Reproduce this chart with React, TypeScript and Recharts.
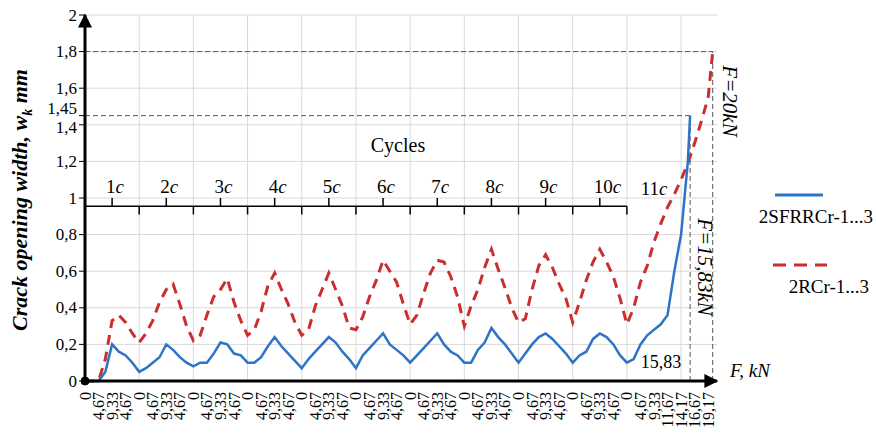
import { LineChart, Line, XAxis, YAxis, CartesianGrid, ReferenceLine, ReferenceDot } from 'recharts';

const SERIF = '"Liberation Serif", "Times New Roman", serif';

// one loading cycle = 8 load steps, a tick label on every 2nd step
const cycleTicks = ['0', '4,67', '9,33', '4,67'];
const lastCycleTicks = ['0', '4,67', '9,33', '11,67', '14,17', '16,67', '19,17'];
const tickLabels = [...Array(10).fill(cycleTicks).flat(), ...lastCycleTicks];
const cycleNames = ['1', '2', '3', '4', '5', '6', '7', '8', '9', '10'];
const yTicks = [0, 0.2, 0.4, 0.6, 0.8, 1, 1.2, 1.4, 1.45, 1.6, 1.8, 2];
const yGrid = [0, 0.2, 0.4, 0.6, 0.8, 1, 1.2, 1.4, 1.6, 1.8, 2];

// crack opening width w_k (mm) at each load step
const sfrrc = [
  0, 0, 0, 0.05, 0.2, 0.16, 0.14, 0.1, 0.05,
  0.07, 0.1, 0.13, 0.2, 0.17, 0.13, 0.1, 0.08,
  0.1, 0.1, 0.15, 0.21, 0.2, 0.15, 0.14, 0.1,
  0.1, 0.13, 0.19, 0.24, 0.19, 0.15, 0.11, 0.07,
  0.12, 0.16, 0.2, 0.24, 0.21, 0.16, 0.12, 0.07,
  0.14, 0.18, 0.22, 0.26, 0.2, 0.17, 0.14, 0.1,
  0.14, 0.18, 0.22, 0.26, 0.2, 0.16, 0.14, 0.1,
  0.1, 0.17, 0.21, 0.29, 0.24, 0.2, 0.15, 0.1,
  0.15, 0.2, 0.24, 0.26, 0.23, 0.19, 0.15, 0.1,
  0.14, 0.16, 0.23, 0.26, 0.24, 0.2, 0.14, 0.1,
  0.12, 0.2, 0.25, 0.28, 0.31, 0.36, 0.6, 0.8, 1.2,
];
const rc = [
  0, 0, 0, 0.12, 0.33, 0.36, 0.32, 0.26, 0.21,
  0.26, 0.33, 0.43, 0.5, 0.53, 0.42, 0.3, 0.22,
  0.25, 0.36, 0.46, 0.5, 0.56, 0.43, 0.33, 0.25,
  0.28, 0.38, 0.52, 0.59, 0.5, 0.42, 0.32, 0.25,
  0.28, 0.41, 0.5, 0.59, 0.5, 0.41, 0.29, 0.28,
  0.35, 0.46, 0.55, 0.66, 0.6, 0.54, 0.42, 0.31,
  0.36, 0.48, 0.59, 0.66, 0.65, 0.57, 0.46, 0.3,
  0.41, 0.5, 0.62, 0.72, 0.61, 0.51, 0.4, 0.32,
  0.34, 0.5, 0.63, 0.69, 0.62, 0.53, 0.45, 0.32,
  0.43, 0.55, 0.65, 0.72, 0.65, 0.57, 0.45, 0.31,
  0.4, 0.54, 0.63, 0.76, 0.86, 0.95, 1.02, 1.1, 1.19, 1.3, 1.42, 1.55,
];
// failure points (kN, mm)
const sfrrcFail = { load: 15.83, w: 1.45 };
const rcFail = { load: 20, w: 1.8 };

// last cycle: 11,67 kN sits at step 86, then 2,5 kN per 2 steps
const loadToStep = (kN: number) => 86 + (2 * (kN - 11.67)) / 2.5;

const blueData = [...sfrrc.map((w, i) => ({ x: i, w })), { x: loadToStep(sfrrcFail.load), w: sfrrcFail.w }];
const redData = [...rc.map((w, i) => ({ x: i, w })), { x: loadToStep(rcFail.load), w: rcFail.w }];
const xTicks = tickLabels.map((_, i) => i * 2);
const cycleBounds = [8, 16, 24, 32, 40, 48, 56, 64, 72, 80, 88];
const BRACE_Y = 0.955;

const fmt = (v: number) => String(v).replace('.', ',');

function XTick({ x, y, payload }: any) {
  const ty = y + 3;
  return (
    <text x={x} y={ty} transform={`rotate(-90 ${x} ${ty})`} textAnchor="end" dominantBaseline="central"
      fontFamily={SERIF} fontSize={16} fill="#000">
      {tickLabels[Math.round(payload.value / 2)]}
    </text>
  );
}

function YTick({ x, y, payload }: any) {
  const v = payload.value;
  const dy = v === 1.45 ? -7 : v === 1.4 ? 3 : 0;
  return (
    <text x={x} y={y + dy} textAnchor="end" dominantBaseline="central" fontFamily={SERIF} fontSize={17} fill="#000">
      {fmt(v)}
    </text>
  );
}

function CycleLabel({ viewBox, name }: any) {
  return (
    <text x={viewBox.x - 6} y={viewBox.y - 5} fontFamily={SERIF} fontSize={19} fill="#000">
      {name}
      <tspan fontStyle="italic">c</tspan>
    </text>
  );
}

function LegendBox() {
  const row = { display: 'flex', flexDirection: 'column' as const, alignItems: 'flex-end' as const };
  return (
    <div style={{ position: 'absolute', left: 733, top: 190, width: 140, fontFamily: SERIF, fontSize: 19, color: '#000' }}>
      <div style={row}>
        <svg width={60} height={10} style={{ marginRight: 42 }}>
          <line x1={4} y1={5} x2={52} y2={5} stroke="#2e74c6" strokeWidth={3} />
        </svg>
        <div style={{ marginTop: 6 }}>2SFRRCr-1...3</div>
      </div>
      <div style={{ ...row, marginTop: 32 }}>
        <svg width={60} height={10} style={{ marginRight: 42 }}>
          <line x1={2} y1={5} x2={56} y2={5} stroke="#cc2d2d" strokeWidth={3} strokeDasharray="13 8" />
        </svg>
        <div style={{ marginTop: 6, marginRight: 4 }}>2RCr-1...3</div>
      </div>
    </div>
  );
}

const note = (left: number, top: number, rot = 0): React.CSSProperties => ({
  position: 'absolute', left, top, transform: `translate(-50%, -50%) rotate(${rot}deg)`,
  whiteSpace: 'nowrap', fontFamily: SERIF, color: '#000', lineHeight: 1,
});

export default function App() {
  return (
    <div style={{ position: 'absolute', left: 0, top: 0, width: 876, height: 435, background: '#fff' }}>
      <LineChart width={876} height={435} margin={{ top: 15, right: 159, bottom: 4, left: 25 }}>
        <defs>
          <marker id="axisArrow" viewBox="0 0 10 10" refX="9" refY="5" markerWidth="18" markerHeight="14"
            markerUnits="userSpaceOnUse" orient="auto-start-reverse">
            <path d="M0,0 L10,5 L0,10 z" fill="#000" />
          </marker>
        </defs>
        <CartesianGrid stroke="#d9d9d9" horizontalValues={yGrid} verticalValues={cycleBounds} />
        <XAxis type="number" dataKey="x" domain={[0, 93.3]} ticks={xTicks} interval={0} height={50}
          tick={<XTick />} tickLine={false}
          axisLine={{ stroke: '#000', strokeWidth: 3, markerEnd: 'url(#axisArrow)' }} />
        <YAxis type="number" domain={[0, 2]} ticks={yTicks} interval={0} width={60} tick={<YTick />}
          tickLine={{ stroke: '#000' }} tickSize={6}
          axisLine={{ stroke: '#000', strokeWidth: 3, markerStart: 'url(#axisArrow)' }} />

        <ReferenceLine segment={[{ x: 0, y: sfrrcFail.w }, { x: loadToStep(sfrrcFail.load), y: sfrrcFail.w }]}
          stroke="#555" strokeDasharray="5 3" />
        <ReferenceLine segment={[{ x: loadToStep(sfrrcFail.load), y: 0 }, { x: loadToStep(sfrrcFail.load), y: sfrrcFail.w }]}
          stroke="#555" strokeDasharray="5 3" />
        <ReferenceLine segment={[{ x: 0, y: rcFail.w }, { x: loadToStep(rcFail.load), y: rcFail.w }]}
          stroke="#555" strokeDasharray="5 3" />
        <ReferenceLine segment={[{ x: loadToStep(rcFail.load), y: 0 }, { x: loadToStep(rcFail.load), y: rcFail.w }]}
          stroke="#555" strokeDasharray="5 3" />

        <ReferenceLine segment={[{ x: 0, y: BRACE_Y }, { x: 80, y: BRACE_Y }]} stroke="#000" strokeWidth={1.5} />
        {cycleBounds.slice(0, 10).map(b => (
          <ReferenceLine key={'d' + b} segment={[{ x: b, y: BRACE_Y }, { x: b, y: BRACE_Y - 0.045 }]}
            stroke="#000" strokeWidth={1.5} />
        ))}
        {cycleNames.map((n, i) => (
          <ReferenceLine key={'u' + n} segment={[{ x: i * 8 + 4, y: BRACE_Y }, { x: i * 8 + 4, y: BRACE_Y + 0.045 }]}
            stroke="#000" strokeWidth={1.5} label={(p: any) => <CycleLabel {...p} name={n} />} />
        ))}

        <Line data={redData} dataKey="w" type="linear" stroke="#cc2d2d" strokeWidth={3} strokeDasharray="10 7"
          dot={false} isAnimationActive={false} />
        <Line data={blueData} dataKey="w" type="linear" stroke="#2e74c6" strokeWidth={2.5}
          dot={false} isAnimationActive={false} />
        <ReferenceDot x={0} y={0} r={4} fill="#000" stroke="#000" />
      </LineChart>

      <LegendBox />
      <div style={{ ...note(22, 200, -90), fontSize: 22, fontWeight: 'bold', fontStyle: 'italic' }}>
        Crack opening width, w<sub style={{ fontSize: 14 }}>k</sub> mm
      </div>
      <div style={{ ...note(398, 145), fontSize: 20 }}>Cycles</div>
      <div style={{ ...note(654, 188), fontSize: 19 }}>11<i>c</i></div>
      <div style={{ ...note(661, 362), fontSize: 18 }}>15,83</div>
      <div style={{ ...note(750, 370), fontSize: 19, fontStyle: 'italic' }}>F, kN</div>
      <div style={{ ...note(729, 101, 90), fontSize: 21, fontStyle: 'italic' }}>F=20kN</div>
      <div style={{ ...note(704, 267, 90), fontSize: 21, fontStyle: 'italic' }}>F=15,83kN</div>
    </div>
  );
}
